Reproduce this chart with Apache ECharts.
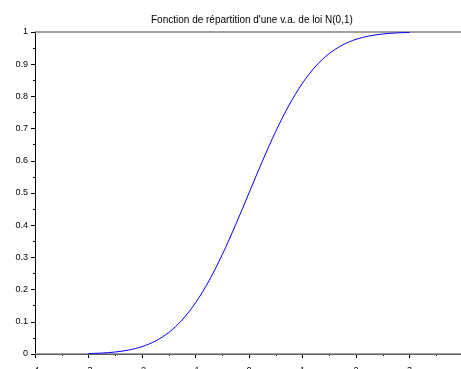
<!DOCTYPE html>
<html>
<head>
<meta charset="utf-8">
<script src="https://cdn.jsdelivr.net/npm/echarts@6/dist/echarts.min.js"></script>
<style>
  html, body { margin: 0; padding: 0; background: #fff; overflow: hidden; }
  #chart { width: 461px; height: 369px; }
</style>
</head>
<body>
<div id="chart"></div>
<script>
// Standard normal distribution function, sampled every 0.25 from -3 to 3
const xs = [-3, -2.75, -2.5, -2.25, -2, -1.75, -1.5, -1.25, -1, -0.75, -0.5, -0.25,
            0, 0.25, 0.5, 0.75, 1, 1.25, 1.5, 1.75, 2, 2.25, 2.5, 2.75, 3];
const cdf = [0.0013, 0.0030, 0.0062, 0.0122, 0.0228, 0.0401, 0.0668, 0.1056, 0.1587, 0.2266, 0.3085, 0.4013,
             0.5, 0.5987, 0.6915, 0.7734, 0.8413, 0.8944, 0.9332, 0.9599, 0.9772, 0.9878, 0.9938, 0.9970, 0.9987];
// Horizontal reference levels
const levels = [0, 1];
const titleText = "Fonction de répartition d'une v.a. de loi N(0,1)";

const curve = xs.map((x, i) => [x, cdf[i]]);
const font = 'Liberation Sans, Arial, sans-serif';

const chart = echarts.init(document.getElementById('chart'), null, { renderer: 'canvas' });
chart.setOption({
  animation: false,
  backgroundColor: '#ffffff',
  title: {
    text: titleText,
    left: 146, top: 10,
    textStyle: { fontFamily: font, fontSize: 10, fontWeight: 'normal', color: '#000' }
  },
  grid: { left: 35, top: 32, width: 428, height: 322, containLabel: false, outerBoundsMode: 'none' },
  xAxis: {
    type: 'value', min: -4, max: 4, interval: 1,
    axisLine: { show: true, onZero: false, lineStyle: { color: '#000', width: 1 } },
    axisTick: { show: true, inside: false, length: 4, lineStyle: { color: '#000' } },
    minorTick: { show: true, splitNumber: 2, length: 2, lineStyle: { color: '#000' } },
    axisLabel: { margin: 12, fontFamily: font, fontSize: 9, color: '#000' },
    splitLine: { show: false }
  },
  yAxis: {
    type: 'value', min: 0, max: 1, interval: 0.1,
    axisLine: { show: true, onZero: false, lineStyle: { color: '#000', width: 1 } },
    axisTick: { show: true, inside: false, length: 4, lineStyle: { color: '#000' } },
    minorTick: { show: true, splitNumber: 2, length: 2, lineStyle: { color: '#000' } },
    axisLabel: {
      margin: 7, fontFamily: font, fontSize: 9, color: '#000',
      formatter: v => String(Math.round(v * 10) / 10)
    },
    splitLine: { show: false }
  },
  series: [
    {
      type: 'line',
      data: [],
      silent: true,
      markLine: {
        symbol: 'none', silent: true, label: { show: false },
        lineStyle: { color: '#808080', width: 1.5, type: 'solid' },
        data: levels.map(v => ({ yAxis: v }))
      }
    },
    {
      type: 'line',
      data: curve,
      smooth: 0.3,
      showSymbol: false,
      lineStyle: { color: '#0000ff', width: 1 },
      z: 5
    }
  ]
});
</script>
</body>
</html>
